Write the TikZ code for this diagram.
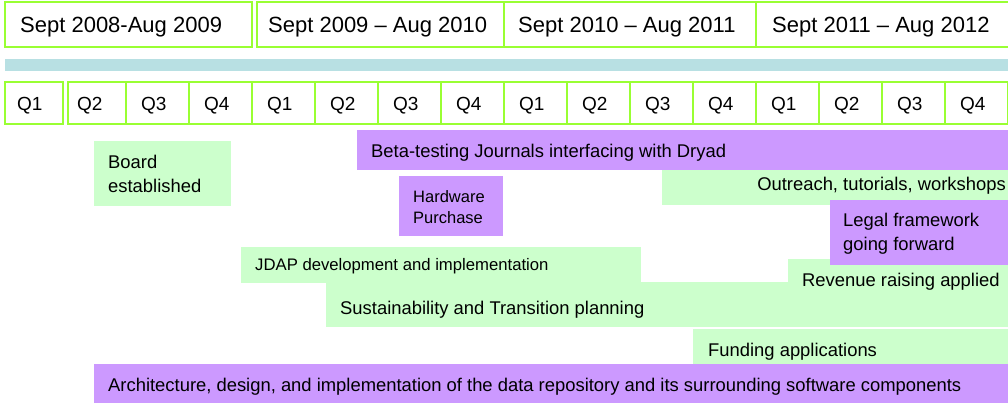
\documentclass[tikz,border=0pt]{standalone}
\usepackage{fontspec}
\setmainfont{Liberation Sans}
\definecolor{gridgreen}{RGB}{153,255,51}
\definecolor{barteal}{RGB}{184,224,227}
\definecolor{taskgreen}{RGB}{204,255,204}
\definecolor{taskpurple}{RGB}{204,153,255}
\tikzset{
  cell/.style={draw=gridgreen, line width=2pt},
  lbl/.style={anchor=base west, inner sep=0pt, align=left, font=\fontsize{18.4}{24}\selectfont},
}

\begin{document}
\begin{tikzpicture}[x=1pt,y=-1pt]
    \clip (0,0) rectangle (1008,403);
    % years
    \draw[cell] (5,2) rectangle (252,47);
    \draw[cell] (257,2) rectangle (504,47);
    \draw[cell] (504,2) rectangle (756,47);
    \draw[cell] (756,2) rectangle (1015,47);
    \node[lbl, font=\fontsize{22}{26}\selectfont] (y1) at (20,33) {Sept 2008-Aug 2009};
    \node[lbl, font=\fontsize{22}{26}\selectfont] (y2) at (268,33) {Sept 2009 -- Aug 2010};
    \node[lbl, font=\fontsize{22}{26}\selectfont] (y3) at (518,33) {Sept 2010 -- Aug 2011};
    \node[lbl, font=\fontsize{22}{26}\selectfont] (y4) at (772,33) {Sept 2011 -- Aug 2012};
    \fill[barteal] (5,59) rectangle (1015,71);
    % quarters
    \draw[cell] (5,82) rectangle (63,124);
    \node[lbl, font=\fontsize{19}{22}\selectfont] (q0) at (17,111) {Q1};
    \draw[cell] (68,82) rectangle (126,124);
    \node[lbl, font=\fontsize{19}{22}\selectfont] (q1) at (77,111) {Q2};
    \foreach \i/\q in {2/3,3/4,4/1,5/2,6/3,7/4,8/1,9/2,10/3,11/4,12/1,13/2,14/3,15/4}{
      \draw[cell] (\i*63,82) rectangle (\i*63+63,124);
      \node[lbl, font=\fontsize{19}{22}\selectfont] (q\i) at (\i*63+15,111) {Q\q};
    }
    % tasks
    \fill[taskgreen] (94,141) rectangle (231,206);
    \node[lbl] (board) at (108,193) {Board\\established};
    \fill[taskpurple] (357,130) rectangle (1015,170);
    \node[lbl] (beta) at (371,158) {Beta-testing Journals interfacing with Dryad};
    \fill[taskpurple] (399,176) rectangle (503,236);
    \node[lbl, font=\fontsize{16.5}{21.5}\selectfont] (hw) at (413,224) {Hardware\\Purchase};
    \fill[taskgreen] (662,170) rectangle (1015,205);
    \node[lbl, anchor=base east] (outreach) at (1006,191) {Outreach, tutorials, workshops};
    \fill[taskgreen] (788,259) rectangle (1015,284);
    \fill[taskpurple] (830,200) rectangle (1015,265);
    \node[lbl] (legal) at (843,251) {Legal framework\\going forward};
    \fill[taskgreen] (241,247) rectangle (641,283);
    \node[lbl, font=\fontsize{16.7}{20}\selectfont] (jdap) at (255,270) {JDAP development and implementation};
    \fill[taskgreen] (326,282) rectangle (1015,327);
    \node[lbl] (sustain) at (340,314) {Sustainability and Transition planning};
    \node[lbl] (revenue) at (802,286) {Revenue raising applied};
    \fill[taskgreen] (693,329) rectangle (1015,364);
    \node[lbl] (funding) at (708,356.5) {Funding applications};
    \fill[taskpurple] (94,364) rectangle (1015,403);
    \node[lbl] (arch) at (108,391.5) {Architecture, design, and implementation of the data repository and its surrounding software components};
\end{tikzpicture}
\end{document}
